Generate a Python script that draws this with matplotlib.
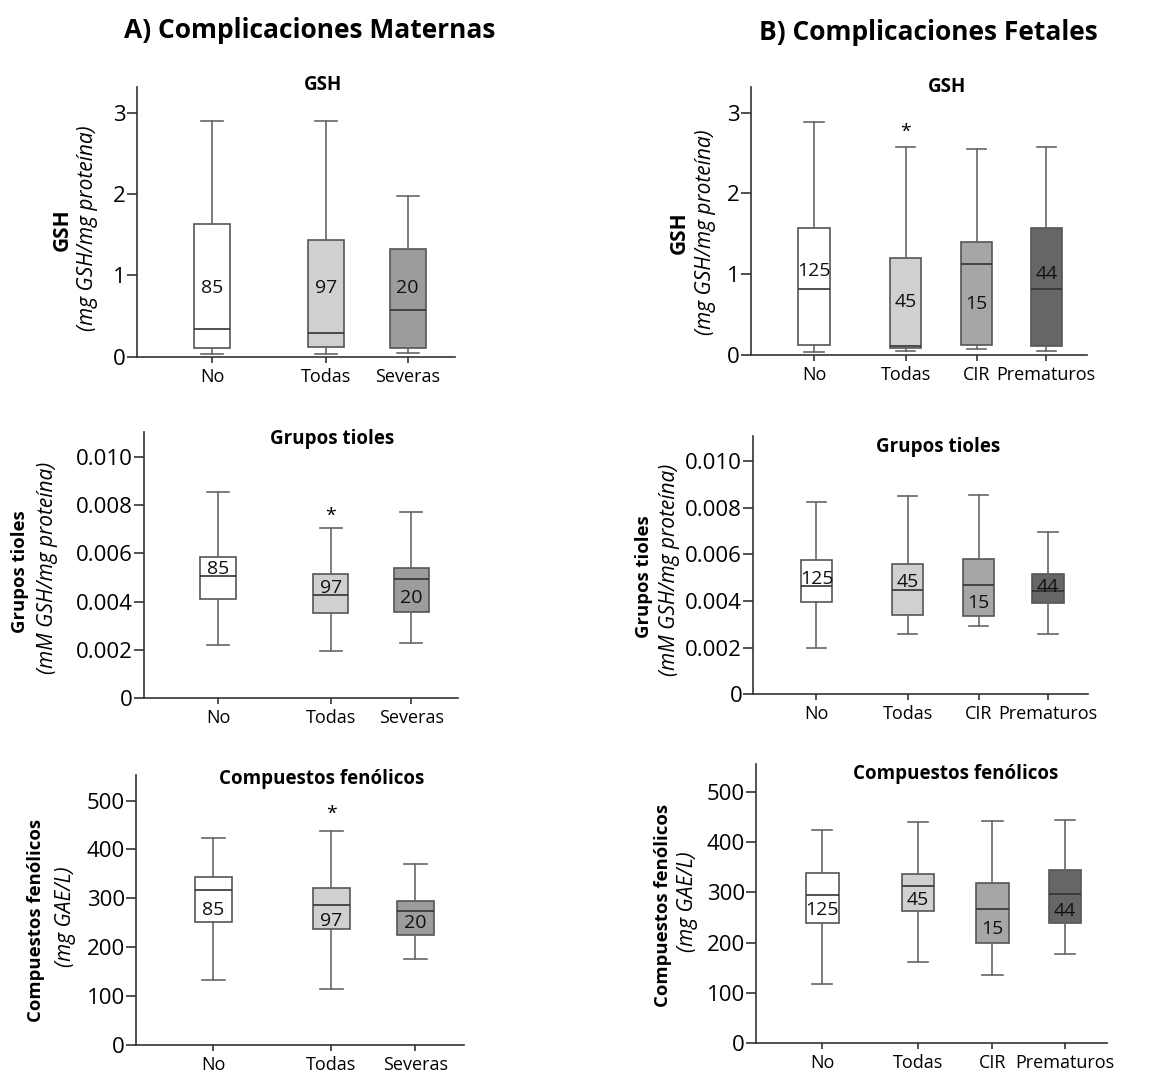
import matplotlib
matplotlib.use('Agg')
from matplotlib import pyplot as plt

plt.rcParams['font.family'] = ['Open Sans', 'DejaVu Sans']

### Datos

grupos_A = ['No', 'Todas', 'Severas']
grupos_B = ['No', 'Todas', 'CIR', 'Prematuros']
n_A = ['85', '97', '20']
n_B = ['125', '45', '15', '44']

# GSH - maternas
gsh_A_whislo = [0.037, 0.037, 0.05]
gsh_A_q1 = [0.107, 0.115, 0.107]
gsh_A_med = [0.34, 0.295, 0.575]
gsh_A_q3 = [1.63, 1.43, 1.32]
gsh_A_whishi = [2.895, 2.9, 1.98]
gsh_A_label_y = [0.84, 0.84, 0.84]

# GSH - fetales
gsh_B_whislo = [0.03, 0.046, 0.066, 0.042]
gsh_B_q1 = [0.116, 0.083, 0.116, 0.108]
gsh_B_med = [0.82, 0.11, 1.13, 0.81]
gsh_B_q3 = [1.57, 1.20, 1.40, 1.565]
gsh_B_whishi = [2.89, 2.58, 2.55, 2.57]
gsh_B_label_y = [1.04, 0.66, 0.63, 1.0]

# Grupos tioles - maternas
tiol_A_whislo = [0.0022, 0.00194, 0.00229]
tiol_A_q1 = [0.0041, 0.00354, 0.00356]
tiol_A_med = [0.00507, 0.00427, 0.00495]
tiol_A_q3 = [0.00586, 0.00513, 0.0054]
tiol_A_whishi = [0.00852, 0.00705, 0.00771]
tiol_A_label_y = [0.00534, 0.00455, 0.00414]

# Grupos tioles - fetales
tiol_B_whislo = [0.0020, 0.0026, 0.00293, 0.0026]
tiol_B_q1 = [0.00396, 0.00341, 0.00337, 0.00393]
tiol_B_med = [0.00464, 0.00447, 0.00467, 0.00443]
tiol_B_q3 = [0.00574, 0.0056, 0.00579, 0.00517]
tiol_B_whishi = [0.00823, 0.00849, 0.00856, 0.00697]
tiol_B_label_y = [0.00496, 0.00483, 0.00391, 0.0046]

# Compuestos fenólicos - maternas
fen_A_whislo = [133, 115, 175]
fen_A_q1 = [252, 237, 225]
fen_A_med = [316, 286, 274]
fen_A_q3 = [344, 322, 295]
fen_A_whishi = [424, 438, 370]
fen_A_label_y = [275, 254, 249]

# Compuestos fenólicos - fetales
fen_B_whislo = [117, 161, 136, 177]
fen_B_q1 = [240, 263, 200, 239]
fen_B_med = [294, 312, 266, 296]
fen_B_q3 = [338, 337, 319, 345]
fen_B_whishi = [425, 441, 442, 444]
fen_B_label_y = [265, 285, 227, 262]

colores_A = ['#ffffff', '#d0d0d0', '#9c9c9c']
colores_B = ['#ffffff', '#d0d0d0', '#a6a6a6', '#666666']

pos_A = [0.92, 2.32, 3.32]
pos_B = [0.83, 2.03, 2.96, 3.87]


# Función para dibujar un panel de cajas
def panel(rect, pos, xlim, ancho, grupos, colores, whislo, q1, med, q3, whishi,
          n, label_y, ylim, yticks, yticklabels, titulo, titulo_xy, asterisco=None):
    ax = fig.add_axes(rect)
    stats = []
    for i in range(len(grupos)):
        stats.append({'whislo': whislo[i], 'q1': q1[i], 'med': med[i],
                      'q3': q3[i], 'whishi': whishi[i], 'fliers': []})
    bp = ax.bxp(stats, positions=pos, widths=ancho, capwidths=ancho * 0.62,
                showfliers=False, patch_artist=True, manage_ticks=False,
                boxprops=dict(edgecolor='#555555', linewidth=1.2),
                whiskerprops=dict(color='#666666', linewidth=1.2),
                capprops=dict(color='#666666', linewidth=1.2),
                medianprops=dict(color='#333333', linewidth=1.2))
    for caja, c in zip(bp['boxes'], colores):
        caja.set_facecolor(c)
    for i in range(len(grupos)):
        ax.text(pos[i], label_y[i], n[i], ha='center', va='center',
                fontsize=14, color='#111111')
    if asterisco is not None:
        i, y = asterisco
        ax.text(pos[i], y, '*', ha='center', va='center', fontsize=14)
    ax.set_xlim(xlim)
    ax.set_ylim(ylim)
    ax.set_xticks(pos)
    ax.set_xticklabels(grupos, fontsize=13)
    ax.set_yticks(yticks)
    ax.set_yticklabels(yticklabels, fontsize=16)
    ax.spines['top'].set_visible(False)
    ax.spines['right'].set_visible(False)
    for s in ['left', 'bottom']:
        ax.spines[s].set_color('#333333')
        ax.spines[s].set_linewidth(1.2)
    ax.tick_params(axis='y', length=7, width=1.2, color='#333333', pad=1)
    ax.tick_params(axis='x', length=4, width=1.2, color='#333333', pad=4)
    fig.text(titulo_xy[0] / 1150, 1 - titulo_xy[1] / 1075, titulo,
             ha='center', va='center', fontsize=13.5, fontweight='bold')
    return ax


# Etiquetas del eje y (dos líneas: negrita + cursiva)
def etiqueta_y(x1, y1, texto1, x2, y2, texto2, tam1=13.3):
    fig.text(x1 / 1150, 1 - y1 / 1075, texto1, rotation=90, ha='center',
             va='center', fontsize=tam1, fontweight='bold')
    fig.text(x2 / 1150, 1 - y2 / 1075, texto2, rotation=90, ha='center',
             va='center', fontsize=15, style='italic')


fig = plt.figure(figsize=(11.5, 10.75), dpi=100)

fig.text(310 / 1150, 1 - 30 / 1075, 'A) Complicaciones Maternas',
         ha='center', va='center', fontsize=19, fontweight='bold')
fig.text(928 / 1150, 1 - 33 / 1075, 'B) Complicaciones Fetales',
         ha='center', va='center', fontsize=19, fontweight='bold')

gsh_ticks = [0, 1, 2, 3]
gsh_lbl = ['0', '1', '2', '3']
tiol_ticks = [0, 0.002, 0.004, 0.006, 0.008, 0.010]
tiol_lbl = ['0', '0.002', '0.004', '0.006', '0.008', '0.010']
fen_ticks = [0, 100, 200, 300, 400, 500]
fen_lbl = ['0', '100', '200', '300', '400', '500']

# Fila 1: GSH
panel([0.1191, 0.6682, 0.2765, 0.2509], pos_A, (0, 3.9), 0.44, grupos_A, colores_A,
      gsh_A_whislo, gsh_A_q1, gsh_A_med, gsh_A_q3, gsh_A_whishi, n_A, gsh_A_label_y,
      (0, 3.317), gsh_ticks, gsh_lbl, 'GSH', (323, 85))
panel([0.6528, 0.6700, 0.2922, 0.2490], pos_B, (0, 4.4), 0.41, grupos_B, colores_B,
      gsh_B_whislo, gsh_B_q1, gsh_B_med, gsh_B_q3, gsh_B_whishi, n_B, gsh_B_label_y,
      (0, 3.318), gsh_ticks, gsh_lbl, 'GSH', (947, 87), asterisco=(1, 2.76))

# Fila 2: Grupos tioles
panel([0.1252, 0.3504, 0.2730, 0.2480], pos_A, (0, 3.9), 0.44, grupos_A, colores_A,
      tiol_A_whislo, tiol_A_q1, tiol_A_med, tiol_A_q3, tiol_A_whishi, n_A, tiol_A_label_y,
      (0, 0.01103), tiol_ticks, tiol_lbl, 'Grupos tioles', (332, 439),
      asterisco=(1, 0.00755))
panel([0.6550, 0.3541, 0.2913, 0.2403], pos_B, (0, 4.4), 0.41, grupos_B, colores_B,
      tiol_B_whislo, tiol_B_q1, tiol_B_med, tiol_B_q3, tiol_B_whishi, n_B, tiol_B_label_y,
      (0, 0.01107), tiol_ticks, tiol_lbl, 'Grupos tioles', (938, 447))

# Fila 3: Compuestos fenólicos
panel([0.1183, 0.0282, 0.2852, 0.2509], pos_A, (0, 3.9), 0.44, grupos_A, colores_A,
      fen_A_whislo, fen_A_q1, fen_A_med, fen_A_q3, fen_A_whishi, n_A, fen_A_label_y,
      (0, 552.7), fen_ticks, fen_lbl, 'Compuestos fenólicos', (322, 779),
      asterisco=(1, 474))
panel([0.6574, 0.0298, 0.3055, 0.2595], pos_B, (0, 4.4), 0.41, grupos_B, colores_B,
      fen_B_whislo, fen_B_q1, fen_B_med, fen_B_q3, fen_B_whishi, n_B, fen_B_label_y,
      (0, 555.8), fen_ticks, fen_lbl, 'Compuestos fenólicos', (956, 774))

etiqueta_y(62, 230, 'GSH', 88, 228, '(mg GSH/mg proteína)', tam1=15)
etiqueta_y(20, 572, 'Grupos tioles', 48, 568, '(mM GSH/mg proteína)')
etiqueta_y(36, 920, 'Compuestos fenólicos', 65, 917, '(mg GAE/L)')
etiqueta_y(679, 233, 'GSH', 705, 232, '(mg GSH/mg proteína)', tam1=15)
etiqueta_y(644, 577, 'Grupos tioles', 670, 570, '(mM GSH/mg proteína)')
etiqueta_y(663, 905, 'Compuestos fenólicos', 687, 902, '(mg GAE/L)')

fig.savefig('out.png', dpi=100)
